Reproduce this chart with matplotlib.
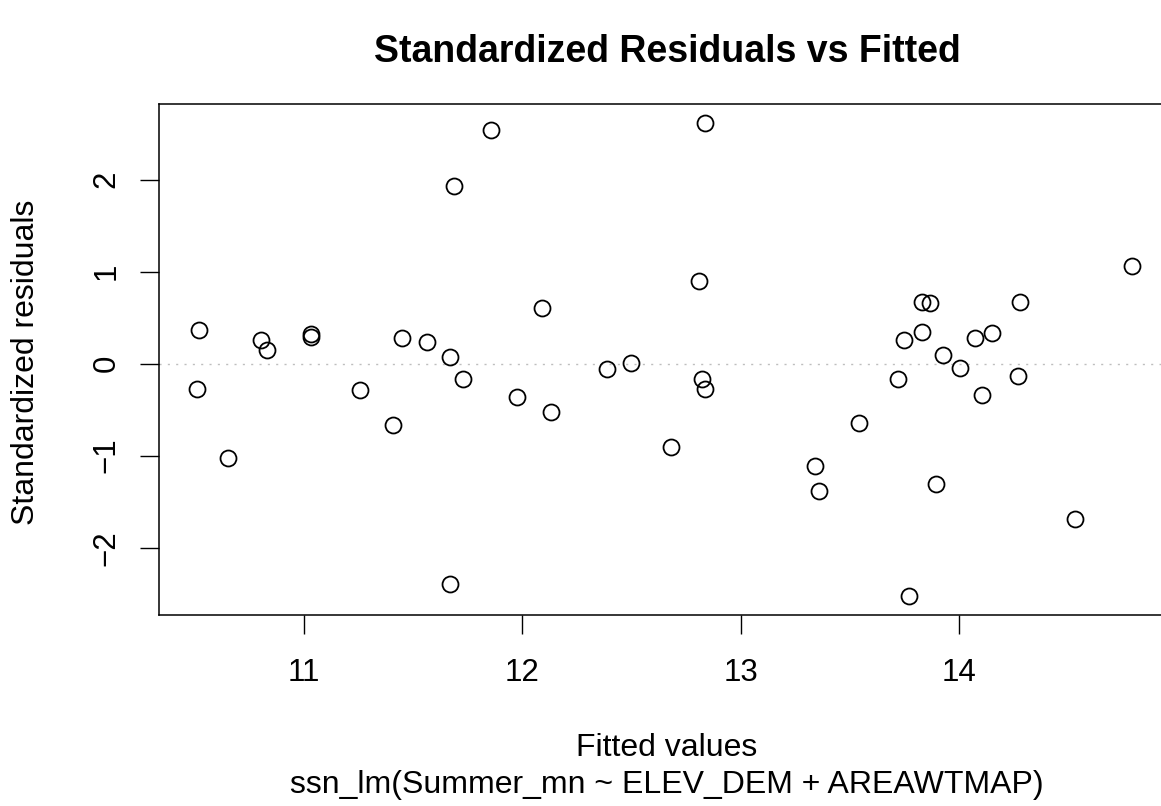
import matplotlib.pyplot as plt

plt.rcParams["font.family"] = ["Liberation Sans", "DejaVu Sans"]

# fitted values and standardized residuals
fitted = [10.518, 10.803, 10.832, 11.032, 11.032, 11.450, 11.565, 11.670, 11.727,
          11.686, 11.857, 12.091, 12.835, 12.808, 14.791, 13.832, 13.869, 14.280,
          13.749, 13.833, 14.076, 14.150, 13.925, 12.388, 12.497, 12.822, 12.835,
          12.680, 13.340, 13.360, 13.543, 13.720, 14.006, 14.273, 14.106, 13.895,
          14.532, 13.771, 10.510, 10.652, 11.258, 11.409, 11.669, 11.976, 12.132]
std_resid = [0.370, 0.261, 0.149, 0.320, 0.294, 0.276, 0.239, 0.069, -0.166,
             1.932, 2.543, 0.609, 2.616, 0.902, 1.062, 0.671, 0.660, 0.667,
             0.258, 0.348, 0.276, 0.330, 0.095, -0.063, 0.008, -0.163, -0.279,
             -0.909, -1.112, -1.380, -0.641, -0.166, -0.050, -0.134, -0.337, -1.308,
             -1.692, -2.525, -0.272, -1.025, -0.286, -0.670, -2.395, -0.366, -0.521]

x_ticks = [11, 12, 13, 14]
y_ticks = [-2, -1, 0, 1, 2]

W, H = 1161, 806
fig = plt.figure(figsize=(W / 100, H / 100), dpi=100)

left, right, top, bottom = 159, 1175, 104, 615
ax = fig.add_axes([left / W, 1 - bottom / H, (right - left) / W, (bottom - top) / H])

ax.axhline(0, color="#bebebe", linestyle=(0, (1.5, 4.5)), linewidth=1.0, zorder=1)
ax.plot(fitted, std_resid, linestyle="none", marker="o", markersize=11.5,
        markerfacecolor="none", markeredgecolor="black", markeredgewidth=1.3, zorder=2)

ax.set_xlim(10.336, 14.990)
ax.set_ylim(-2.732, 2.823)
ax.set_xticks(x_ticks)
ax.set_yticks(y_ticks)
ax.set_yticklabels([str(v).replace("-", "\u2212") for v in y_ticks],
                   rotation=90, va="center")

for s in ax.spines.values():
    s.set_linewidth(1.1)
ax.spines["right"].set_visible(False)
ax.tick_params(direction="out", length=14, width=1.0, labelsize=22.5, pad=13)
ax.tick_params(axis="x", pad=17)

cx = (left + right) / 2 / W
fig.text(cx, 1 - 52 / H, "Standardized Residuals vs Fitted",
         ha="center", va="center", fontsize=27, fontweight="bold")
fig.text(cx, 1 - 748 / H, "Fitted values", ha="center", va="center", fontsize=23)
fig.text(cx, 1 - 785 / H, "ssn_lm(Summer_mn ~ ELEV_DEM + AREAWTMAP)",
         ha="center", va="center", fontsize=23)
fig.text(26 / W, 1 - 362 / H, "Standardized residuals", rotation=90,
         ha="center", va="center", fontsize=23)

fig.savefig("out.png", dpi=100)
